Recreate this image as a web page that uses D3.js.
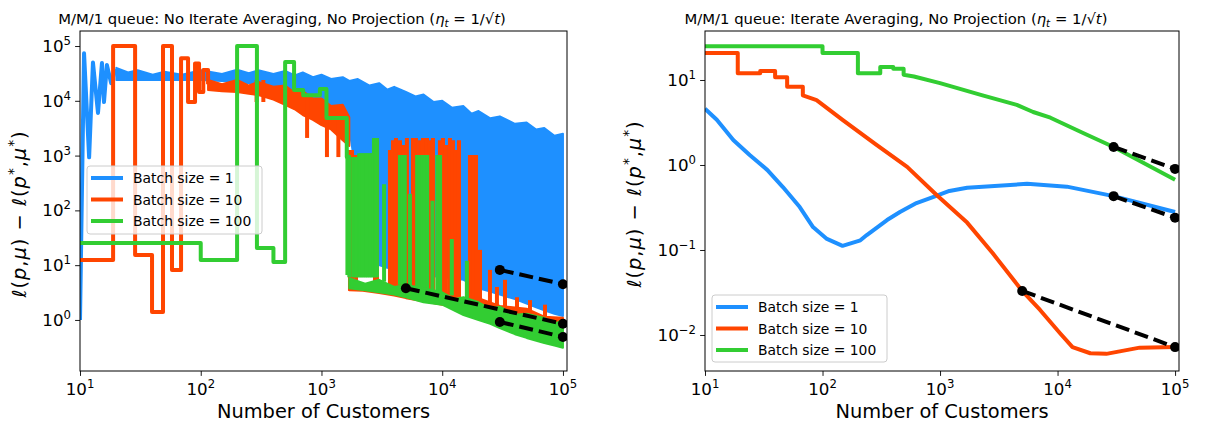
<!DOCTYPE html>
<html>
<head>
<meta charset="utf-8">
<script src="https://cdn.jsdelivr.net/npm/d3@7"></script>
<style>
  body { margin: 0; background: #fff; }
  text { font-family: "DejaVu Sans", sans-serif; white-space: pre; }
</style>
</head>
<body>
<svg id="fig" width="1205" height="424"></svg>
<script>
const xTickExp = [1, 2, 3, 4, 5];
const leftYTickExp = [0, 1, 2, 3, 4, 5];
const rightYTickExp = [-2, -1, 0, 1];
const legendLabels = ['Batch size = 1', 'Batch size = 10', 'Batch size = 100'];
const seriesColors = ['#1e90ff', '#ff4500', '#32cd32'];

// ---- left panel: no iterate averaging ----
// batch 1: first oscillations, then a dense noisy band [customers, high, low]
const leftB1Early = [[10, 1.0], [10.8, 74000], [11.9, 930], [12.8, 50000], [14.1, 6000], [15.2, 49000],
  [15.8, 9500], [16.7, 45000], [18.1, 21000], [19.5, 35000], [20, 30000]];
const leftB1Band = [[20, 40000, 24000], [25, 33000, 24000], [30, 36000, 24000], [40, 30000, 24000],
  [50, 34000, 24000], [70, 30000, 24000], [100, 36000, 24000], [150, 31000, 23000], [200, 37000, 22000],
  [250, 32000, 21000], [300, 36000, 20000], [400, 31000, 17000], [500, 35000, 10000], [600, 29000, 8500],
  [700, 33000, 7500], [850, 27000, 6500], [1000, 30000, 5500], [1200, 25000, 4500], [1500, 27000, 3600],
  [1700, 23000, 3000], [2000, 25000, 300], [2500, 19000, 20], [3000, 21000, 10], [3500, 16000, 9],
  [4000, 18000, 8], [5000, 14500, 7.5], [6000, 12000, 7], [7000, 13000, 6.6], [8500, 9500, 6.3],
  [10000, 10000, 6.1], [12000, 7500, 5.8], [15000, 8000, 5.4], [17500, 5800, 4.5], [20000, 6500, 3.8],
  [25000, 4800, 3.3], [30000, 5200, 2.9], [40000, 3800, 2.4], [50000, 4000, 2.0], [60000, 3000, 1.7],
  [70000, 3200, 1.5], [85000, 2300, 1.3], [100000, 2500, 1.18]];

// batch 10
const leftB10Early = [[10, 12.4], [18.8, 12.4], [18.8, 1e5], [28.6, 1e5], [28.6, 15.4], [39.5, 15.4],
  [39.5, 1.4], [48.7, 1.4], [48.7, 1e5], [57.8, 1e5], [57.8, 8.2], [68.7, 8.2], [68.7, 60000],
  [78.5, 60000], [78.5, 9500], [89.7, 9500], [89.7, 48000], [96.8, 48000], [96.8, 14500],
  [105, 14500], [105, 36500], [115, 36500], [115, 20000]];
const leftB10Band = [[115, 24000, 15800], [150, 20000, 15000], [200, 24000, 14500], [250, 19000, 13500],
  [300, 22000, 12800], [400, 18000, 10500], [500, 19000, 8400], [600, 14000, 7000], [700, 15000, 5500],
  [850, 11000, 4500], [1000, 11000, 3600], [1200, 8000, 3000], [1500, 8500, 1900], [1700, 5000, 1500]];
const leftB10Dips = [[290, 24000, 9500], [330, 24000, 9500], [760, 12000, 2100], [1110, 8000, 940], [1380, 6000, 940]];
const leftB10Low = [[1700, 5.4, 3.5], [2200, 4.4, 3.4], [3000, 5.0, 3.1], [4000, 3.9, 2.8], [5000, 4.1, 2.5],
  [7000, 3.1, 2.2], [10000, 3.4, 1.9], [14000, 2.4, 1.6], [20000, 2.5, 1.4], [30000, 1.8, 1.2],
  [50000, 1.6, 1.0], [70000, 1.15, 0.85], [100000, 1.1, 0.71]];
// spikes [customers, top, bottom]
const leftB10Spikes = [[1722, 1260, 3.4], [1790, 1260, 3.4], [1933, 1020, 3.4], [2774, 2100, 3.2],
  [2884, 2100, 3.2], [3690, 1260, 3.0], [3910, 1900, 3.0], [4140, 2100, 3.0], [4470, 1900, 2.8],
  [4820, 1560, 2.8], [5100, 2100, 2.6], [5720, 2100, 2.6], [6060, 2100, 2.5], [6550, 1900, 2.5],
  [6930, 2100, 2.4], [7480, 2100, 2.3], [7920, 1900, 2.3], [8380, 2100, 2.2], [9570, 1900, 2.0],
  [10140, 2100, 2.0], [10740, 1560, 1.9], [11590, 2100, 1.9], [12270, 1900, 1.8], [13000, 1260, 1.8],
  [13770, 1900, 1.8], [16980, 1020, 1.6], [17990, 1020, 1.6], [19050, 1020, 1.5], [20560, 19, 1.5],
  [24850, 8.2, 1.4], [28390, 4.0, 1.3], [33100, 5.4, 1.3], [41600, 2.6, 1.1], [53300, 2.3, 1.0],
  [71000, 1.9, 0.9]];

// batch 100
const leftB100Early = [[10, 25.4], [100, 25.4], [100, 12.4], [200, 12.4], [200, 1e5], [292, 1e5],
  [292, 20.6], [400, 20.6], [400, 11.4], [500, 11.4], [500, 51000], [593, 51000], [593, 15800],
  [705, 15800], [705, 12600], [970, 12600], [970, 16500], [1100, 16500], [1100, 4850], [1620, 4850],
  [1620, 940], [1750, 940]];
const leftB100Low = [[1700, 5.8, 3.8], [2300, 4.6, 3.5], [3000, 5.4, 3.2], [4000, 4.0, 2.9], [5000, 4.35, 2.6],
  [7000, 3.8, 2.1], [10000, 3.2, 1.9], [12500, 2.4, 1.5], [15000, 2.6, 1.23], [20000, 2.1, 1.0],
  [25000, 1.6, 0.85], [30000, 1.75, 0.71], [40000, 1.25, 0.55], [50000, 1.3, 0.47], [70000, 1.09, 0.38],
  [85000, 0.85, 0.34], [100000, 1.0, 0.31]];
const leftB100Spikes = [[1640, 940, 6.6], [1700, 940, 6], [1830, 940, 6], [1900, 940, 6], [1960, 940, 6],
  [2050, 1100, 6], [2120, 1100, 6], [2200, 1100, 6], [2280, 1100, 6], [2360, 1100, 6], [2440, 1100, 6],
  [2530, 1100, 6], [2620, 1100, 6], [2720, 2100, 6], [2800, 2100, 6], [2880, 2100, 6],
  [3300, 300, 5], [4470, 1020, 4.4], [4700, 1020, 4.4], [4900, 1020, 4.4], [5400, 200, 4],
  [6200, 1020, 3.8], [6500, 1020, 3.8], [6900, 1020, 3.8], [7200, 1020, 3.8], [7500, 1020, 3.6],
  [8300, 150, 3.4], [9100, 1020, 3.2], [9600, 1020, 3.2], [12000, 30, 2.8], [16000, 12, 2.4]];

// reference slopes (dashed)
const leftRefs = [[[30000, 8.2], [100000, 4.5]], [[5000, 3.8], [100000, 0.85]], [[30000, 0.92], [100000, 0.49]]];

// ---- right panel: iterate averaging ----
const rightB1 = [[10, 4.6], [12.6, 3.4], [17.4, 1.97], [24, 1.31], [34, 0.87], [46, 0.55], [64, 0.32],
  [83, 0.186], [109, 0.135], [148, 0.112], [210, 0.13], [238, 0.15], [354, 0.225], [456, 0.28],
  [630, 0.357], [870, 0.42], [1200, 0.495], [1700, 0.54], [5500, 0.6], [12000, 0.556], [30000, 0.43],
  [100000, 0.28]];
const rightB10 = [[10, 20.8], [19, 20.8], [19, 12], [29.5, 12], [29.5, 12.8], [39.5, 12.8], [39.5, 10.8],
  [50, 10.8], [50, 8.3], [68, 8.3], [68, 6.6], [89, 5.8], [148, 3.4], [288, 1.72], [525, 0.95],
  [940, 0.44], [1700, 0.21], [2800, 0.092], [5000, 0.033], [7100, 0.0197], [10500, 0.0105],
  [13400, 0.0072], [19000, 0.0061], [26000, 0.006], [50000, 0.0071], [100000, 0.0072]];
const rightB100 = [[10, 25], [100, 25], [100, 20.8], [200, 20.8], [200, 12], [310, 12], [310, 14.2],
  [400, 14.2], [400, 13.6], [490, 13.6], [490, 11.5], [600, 11], [1000, 9.2], [2300, 6.6], [4500, 5.1],
  [6200, 4.2], [8700, 3.6], [16500, 2.38], [30000, 1.63], [100000, 0.67]];
const rightRefs = [[[30000, 1.63], [100000, 0.9]], [[30000, 0.43], [100000, 0.24]], [[5000, 0.033], [100000, 0.0072]]];

const xDomain = [10, 1.08e5];
const leftYDomain = [0.117, 1.88e5];
const rightYDomain = [0.00377, 37.7];

const svg = d3.select('#fig');
const LW = 4;

function richText(sel, parts, size) {
  let shift = 0;
  parts.forEach(([s, st]) => {
    const ts = sel.append('tspan').text(s);
    let target = 0;
    if (st.startsWith('sup')) target = -0.42 * size;
    if (st.startsWith('sub')) target = 0.22 * size;
    if (target !== shift) ts.attr('dy', target - shift);
    shift = target;
    if (st.startsWith('sup') || st.startsWith('sub')) ts.attr('font-size', size * 0.7);
    if (st.endsWith('i')) ts.attr('font-style', 'italic');
  });
}

function minorTicks(dom) {
  const out = [];
  for (let e = Math.floor(Math.log10(dom[0])); e <= Math.ceil(Math.log10(dom[1])); e++) {
    for (let m = 2; m <= 9; m++) {
      const v = m * Math.pow(10, e);
      if (v >= dom[0] && v <= dom[1]) out.push(v);
    }
  }
  return out;
}

function makePanel(id, l, r, t, b, yDomain) {
  const x = d3.scaleLog().domain(xDomain).range([l, r]);
  const y = d3.scaleLog().domain(yDomain).range([b, t]);
  const g = svg.append('g');
  svg.append('clipPath').attr('id', 'clip' + id)
    .append('rect').attr('x', l).attr('y', t).attr('width', r - l).attr('height', b - t);
  const plot = g.append('g').attr('clip-path', `url(#clip${id})`);
  return { x, y, g, plot, l, r, t, b };
}

function drawLine(p, data, color) {
  p.plot.append('path').datum(data)
    .attr('d', d3.line().x(d => p.x(d[0])).y(d => p.y(d[1])))
    .attr('fill', 'none').attr('stroke', color).attr('stroke-width', LW)
    .attr('stroke-linejoin', 'round');
}

function drawBand(p, data, color) {
  p.plot.append('path').datum(data)
    .attr('d', d3.area().x(d => p.x(d[0])).y0(d => p.y(d[2])).y1(d => p.y(d[1])))
    .attr('fill', color).attr('stroke', color).attr('stroke-width', 2).attr('stroke-linejoin', 'round');
}

function drawSpikes(p, data, color) {
  p.plot.selectAll(null).data(data).enter().append('line')
    .attr('x1', d => p.x(d[0])).attr('x2', d => p.x(d[0]))
    .attr('y1', d => p.y(d[1])).attr('y2', d => p.y(d[2]))
    .attr('stroke', color).attr('stroke-width', LW);
}

function drawRefs(p, refs) {
  refs.forEach(seg => {
    p.plot.append('path').datum(seg)
      .attr('d', d3.line().x(d => p.x(d[0])).y(d => p.y(d[1])))
      .attr('stroke', '#000').attr('stroke-width', LW).attr('stroke-dasharray', '14,6');
    p.plot.selectAll(null).data(seg).enter().append('circle')
      .attr('cx', d => p.x(d[0])).attr('cy', d => p.y(d[1])).attr('r', 5).attr('fill', '#000');
  });
}

function drawAxes(p, yExps) {
  const tickSize = 16.7;
  const xg = p.g.append('g').attr('transform', `translate(0,${p.b})`);
  xg.call(d3.axisBottom(p.x).tickValues(minorTicks(xDomain)).tickSize(2.8).tickFormat(''));
  xg.call(d3.axisBottom(p.x).tickValues(xTickExp.map(e => Math.pow(10, e))).tickSize(4.9).tickFormat(''));
  xg.selectAll('.domain').remove();
  xg.selectAll('line').attr('stroke-width', 0.9);

  const yg = p.g.append('g').attr('transform', `translate(${p.l},0)`);
  yg.call(d3.axisLeft(p.y).tickValues(minorTicks(p.y.domain())).tickSize(2.8).tickFormat(''));
  yg.call(d3.axisLeft(p.y).tickValues(yExps.map(e => Math.pow(10, e))).tickSize(4.9).tickFormat(''));
  yg.selectAll('.domain').remove();
  yg.selectAll('line').attr('stroke-width', 0.9);

  xTickExp.forEach(e => {
    const t = p.g.append('text').attr('x', p.x(Math.pow(10, e))).attr('y', p.b + 24)
      .attr('text-anchor', 'middle').attr('font-size', tickSize);
    richText(t, [['10', 'n'], [String(e), 'sup']], tickSize);
  });
  yExps.forEach(e => {
    const t = p.g.append('text').attr('x', p.l - 9).attr('y', p.y(Math.pow(10, e)) + 6)
      .attr('text-anchor', 'end').attr('font-size', tickSize);
    richText(t, [['10', 'n'], [e < 0 ? '\u2212' + (-e) : String(e), 'sup']], tickSize);
  });

  p.g.append('rect').attr('x', p.l).attr('y', p.t).attr('width', p.r - p.l).attr('height', p.b - p.t)
    .attr('fill', 'none').attr('stroke', '#000').attr('stroke-width', 1);

  p.g.append('text').attr('x', (p.l + p.r) / 2).attr('y', p.b + 47).attr('text-anchor', 'middle')
    .attr('font-size', 19.4).text('Number of Customers');
}

function drawYLabel(p, xPos, yPos) {
  const t = p.g.append('text').attr('transform', `translate(${xPos},${yPos}) rotate(-90)`)
    .attr('text-anchor', 'middle').attr('font-size', 19.4).attr('letter-spacing', 1);
  richText(t, [['\u2113', 'i'], ['(', 'n'], ['p', 'i'], [',', 'n'], ['\u03bc', 'i'], [')', 'n'], [' \u2212 ', 'n'],
    ['\u2113', 'i'], ['(', 'n'], ['p', 'i'], ['*', 'sup'], [',', 'n'], ['\u03bc', 'i'], ['*', 'sup'], [')', 'n']], 19.4);
}

function drawTitle(p, cx, label) {
  const t = p.g.append('text').attr('x', cx).attr('y', 24).attr('text-anchor', 'middle').attr('font-size', 14.8);
  richText(t, [[label + ' (', 'n'], ['\u03b7', 'i'], ['t', 'subi'], [' = 1/\u221a', 'n'], ['t', 'i'], [')', 'n']], 14.8);
}

function drawLegend(p, bx, by, bw, bh) {
  const lg = p.g.append('g');
  lg.append('rect').attr('x', bx).attr('y', by).attr('width', bw).attr('height', bh).attr('rx', 3)
    .attr('fill', '#fff').attr('fill-opacity', 0.8).attr('stroke', '#ccc').attr('stroke-width', 1);
  legendLabels.forEach((lab, i) => {
    const yy = by + 12 + i * 21.5;
    lg.append('line').attr('x1', bx + 4).attr('x2', bx + 36).attr('y1', yy).attr('y2', yy)
      .attr('stroke', seriesColors[i]).attr('stroke-width', LW);
    lg.append('text').attr('x', bx + 46).attr('y', yy + 5).attr('font-size', 13.9).text(lab);
  });
}

// left panel
const pL = makePanel('L', 80, 567, 31, 371, leftYDomain);
drawLine(pL, leftB1Early, seriesColors[0]);
drawBand(pL, leftB1Band, seriesColors[0]);
drawLine(pL, leftB10Early, seriesColors[1]);
drawBand(pL, leftB10Band, seriesColors[1]);
drawSpikes(pL, leftB10Dips, seriesColors[1]);
drawSpikes(pL, leftB10Spikes, seriesColors[1]);
drawBand(pL, leftB10Low, seriesColors[1]);
drawLine(pL, leftB100Early, seriesColors[2]);
drawSpikes(pL, leftB100Spikes, seriesColors[2]);
drawBand(pL, leftB100Low, seriesColors[2]);
drawRefs(pL, leftRefs);
drawAxes(pL, leftYTickExp);
drawYLabel(pL, 26, 214);
drawTitle(pL, 282, 'M/M/1 queue: No Iterate Averaging, No Projection');
drawLegend(pL, 87, 166, 175, 68);

// right panel
const pR = makePanel('R', 705, 1179, 31, 371, rightYDomain);
drawLine(pR, rightB1, seriesColors[0]);
drawLine(pR, rightB10, seriesColors[1]);
drawLine(pR, rightB100, seriesColors[2]);
drawRefs(pR, rightRefs);
drawAxes(pR, rightYTickExp);
drawYLabel(pR, 641, 204);
drawTitle(pR, 896, 'M/M/1 queue: Iterate Averaging, No Projection');
drawLegend(pR, 712, 295, 175, 67);
</script>
</body>
</html>
